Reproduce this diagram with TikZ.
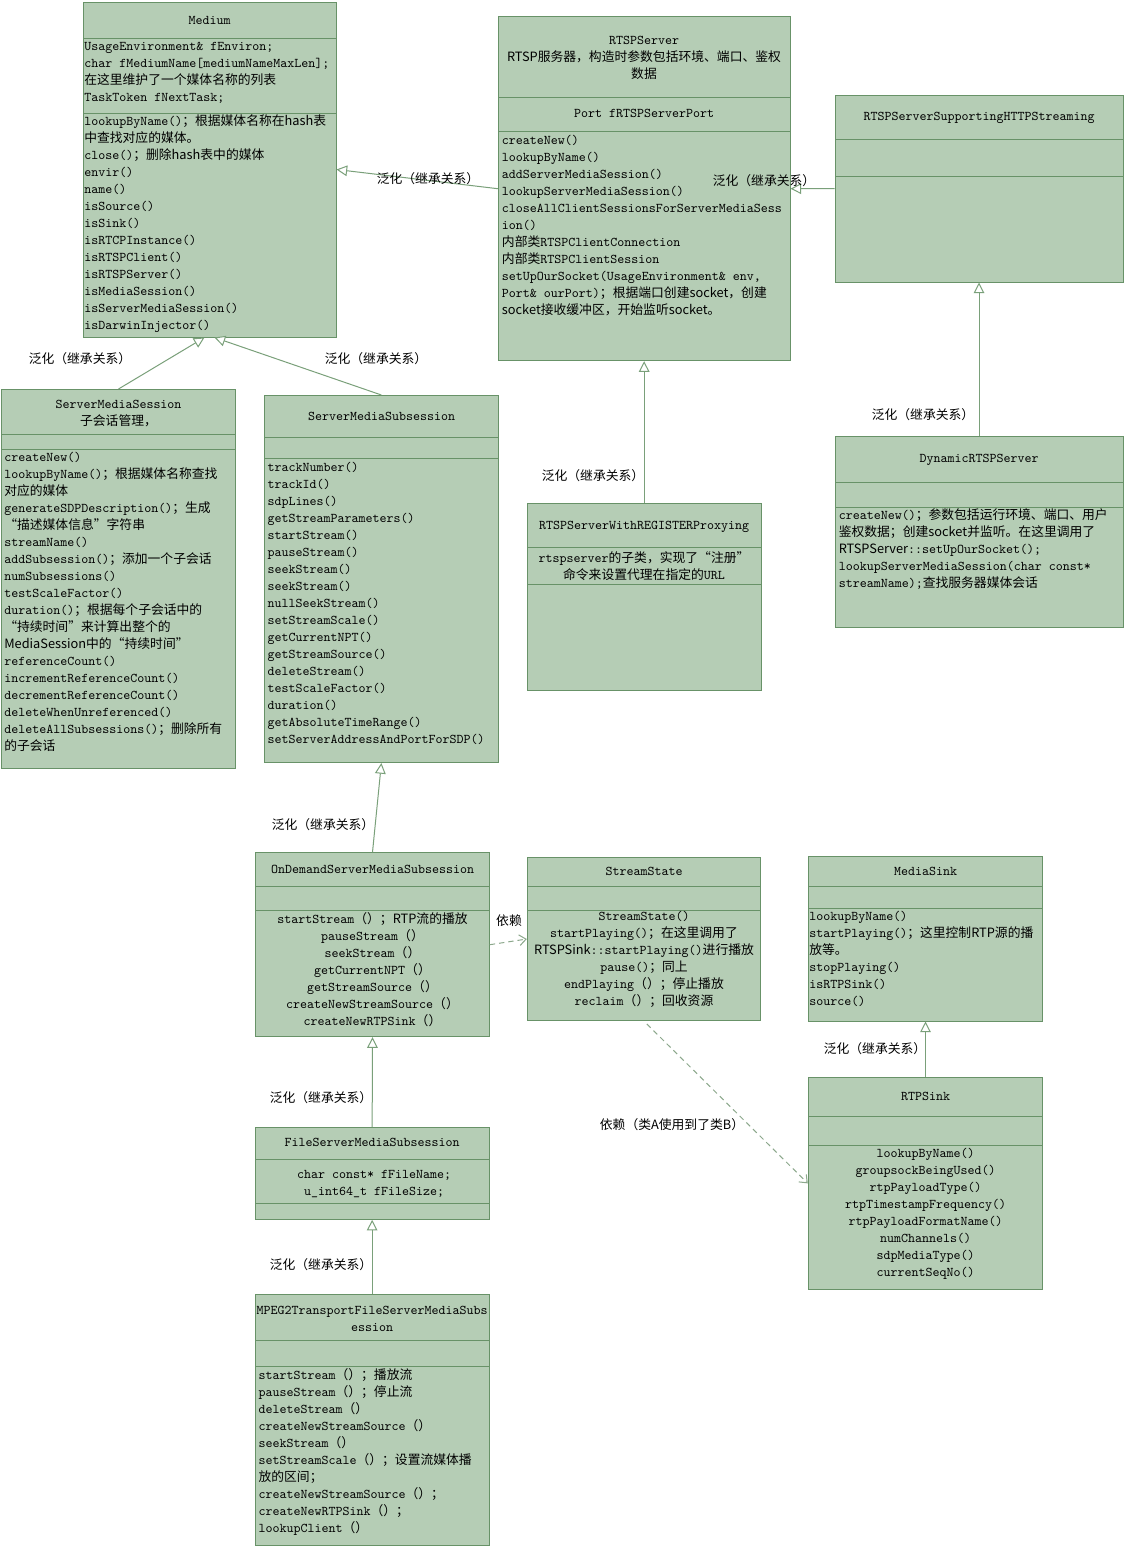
\documentclass[tikz,border=0pt]{standalone}
\usepackage{fontspec}
\newfontfamily\cjkfont[Scale=0.96]{Noto Sans CJK SC}
\usetikzlibrary{arrows.meta,fit,calc}
\newcommand\zh[1]{{\cjkfont #1}}
\newcommand\monofnt{\ttfamily\fontsize{10pt}{12.75pt}\selectfont}
\definecolor{boxfill}{RGB}{181,205,181}
\definecolor{boxline}{RGB}{104,146,104}
\definecolor{conn}{RGB}{122,160,122}
\definecolor{depline}{RGB}{140,168,140}
\begin{document}
\begin{tikzpicture}[x=0.75pt,y=-0.75pt,
  umlbox/.style={draw=boxline,fill=boxfill,line width=0.75pt,inner sep=0pt},
  divider/.style={draw=boxline,line width=0.75pt},
  txt/.style={inner sep=0pt,font=\monofnt},
  lefttxt/.style={txt,align=left,anchor=north west},
  midtxt/.style={txt,align=center,anchor=north},
  lbl/.style={inner sep=0pt,font=\cjkfont},
  gen/.style={draw=conn,line width=0.75pt,-{Triangle[open,fill=white,length=8pt,width=8pt]}},
  dep/.style={draw=depline,line width=0.75pt,dash pattern=on 4pt off 3pt,-{Straight Barb[length=5pt,width=8pt]}}
]
\fill[white] (0,0) rectangle (1124,1546);
\useasboundingbox (0,0) rectangle (1124,1546);

% ---------- Medium ----------
\node[umlbox,fit={(83,2) (336,337)}] (medium) {};
\draw[divider] (83,38.3) -- (336,38.3);
\draw[divider] (83,113.3) -- (336,113.3);
\node[txt] (medium-t) at (209.5,21) {\strut Medium};
\node[lefttxt] (medium-a) at (84,38.7) {\strut UsageEnvironment\& fEnviron;\\
\strut char fMediumName[mediumNameMaxLen];\\
\strut\zh{在这里维护了一个媒体名称的列表}\\
\strut TaskToken fNextTask;};
\node[lefttxt] (medium-m) at (84,113.7) {\strut lookupByName()\zh{；根据媒体名称在hash表}\\
\strut\zh{中查找对应的媒体。}\\
\strut close()\zh{；删除hash表中的媒体}\\
\strut envir()\\
\strut name()\\
\strut isSource()\\
\strut isSink()\\
\strut isRTCPInstance()\\
\strut isRTSPClient()\\
\strut isRTSPServer()\\
\strut isMediaSession()\\
\strut isServerMediaSession()\\
\strut isDarwinInjector()};

% ---------- RTSPServer ----------
\node[umlbox,fit={(498.3,16.7) (790,360.7)}] (rtsp) {};
\draw[divider] (498.3,97.3) -- (790,97.3);
\draw[divider] (498.3,131.7) -- (790,131.7);
\node[midtxt] (rtsp-t) at (644,32.7) {\strut RTSPServer\\
\strut\zh{RTSP服务器，构造时参数包括环境、端口、鉴权}\\
\strut\zh{数据}};
\node[txt] (rtsp-a) at (644,114.3) {\strut Port fRTSPServerPort};
\node[lefttxt] (rtsp-m) at (501.7,132.7) {\strut createNew()\\
\strut lookupByName()\\
\strut addServerMediaSession()\\
\strut lookupServerMediaSession()\\
\strut closeAllClientSessionsForServerMediaSess\\
\strut ion()\\
\strut\zh{内部类}RTSPClientConnection\\
\strut\zh{内部类}RTSPClientSession\\
\strut setUpOurSocket(UsageEnvironment\& env,\\
\strut Port\& ourPort)\zh{；根据端口创建socket，创建}\\
\strut\zh{socket接收缓冲区，开始监听socket。}};

% ---------- RTSPServerSupportingHTTPStreaming ----------
\node[umlbox,fit={(835,95) (1123,282)}] (http) {};
\draw[divider] (835,139) -- (1123,139);
\draw[divider] (835,176) -- (1123,176);
\node[txt] (http-t) at (979,117) {\strut RTSPServerSupportingHTTPStreaming};

% ---------- DynamicRTSPServer ----------
\node[umlbox,fit={(835,436) (1123,627)}] (dyn) {};
\draw[divider] (835,482) -- (1123,482);
\draw[divider] (835,507) -- (1123,507);
\node[txt] (dyn-t) at (979,459) {\strut DynamicRTSPServer};
\node[lefttxt] (dyn-m) at (838.5,507) {\strut createNew()\zh{；参数包括运行环境、端口、用户}\\
\strut\zh{鉴权数据；创建socket并监听。在这里调用了}\\
\strut\zh{RTSPServer}::setUpOurSocket();\\
\strut lookupServerMediaSession(char const*\\
\strut streamName);\zh{查找服务器媒体会话}};

% ---------- RTSPServerWithREGISTERProxying ----------
\node[umlbox,fit={(527.3,503.3) (761,690)}] (proxy) {};
\draw[divider] (527.3,547.3) -- (761,547.3);
\draw[divider] (527.3,584.3) -- (761,584.3);
\node[txt] (proxy-t) at (644,526) {\strut RTSPServerWithREGISTERProxying};
\node[midtxt] (proxy-a) at (644,550.3) {\strut rtspserver\zh{的子类，实现了“注册”}\\
\strut\zh{命令来设置代理在指定的}URL};

% ---------- ServerMediaSession ----------
\node[umlbox,fit={(1.5,389.5) (235.5,768.5)}] (sms) {};
\draw[divider] (1.5,434.3) -- (235.5,434.3);
\draw[divider] (1.5,449.5) -- (235.5,449.5);
\node[midtxt] (sms-t) at (118.5,396) {\strut ServerMediaSession\\
\strut\zh{子会话管理，}};
\node[lefttxt] (sms-m) at (4,449.7) {\strut createNew()\\
\strut lookupByName()\zh{；根据媒体名称查找}\\
\strut\zh{对应的媒体}\\
\strut generateSDPDescription()\zh{；生成}\\
\strut\zh{“描述媒体信息”字符串}\\
\strut streamName()\\
\strut addSubsession()\zh{；添加一个子会话}\\
\strut numSubsessions()\\
\strut testScaleFactor()\\
\strut duration()\zh{；根据每个子会话中的}\\
\strut\zh{“持续时间”来计算出整个的}\\
\strut\zh{MediaSession中的“持续时间”}\\
\strut referenceCount()\\
\strut incrementReferenceCount()\\
\strut decrementReferenceCount()\\
\strut deleteWhenUnreferenced()\\
\strut deleteAllSubsessions()\zh{；删除所有}\\
\strut\zh{的子会话}};

% ---------- ServerMediaSubsession ----------
\node[umlbox,fit={(264.5,395.5) (498.3,762.5)}] (subs) {};
\draw[divider] (264.5,437.3) -- (498.3,437.3);
\draw[divider] (264.5,458.3) -- (498.3,458.3);
\node[txt] (subs-t) at (381.5,416.7) {\strut ServerMediaSubsession};
\node[lefttxt] (subs-m) at (267.3,459.3) {\strut trackNumber()\\
\strut trackId()\\
\strut sdpLines()\\
\strut getStreamParameters()\\
\strut startStream()\\
\strut pauseStream()\\
\strut seekStream()\\
\strut seekStream()\\
\strut nullSeekStream()\\
\strut setStreamScale()\\
\strut getCurrentNPT()\\
\strut getStreamSource()\\
\strut deleteStream()\\
\strut testScaleFactor()\\
\strut duration()\\
\strut getAbsoluteTimeRange()\\
\strut setServerAddressAndPortForSDP()};

% ---------- OnDemandServerMediaSubsession ----------
\node[umlbox,fit={(255.7,852.7) (489.3,1036.7)}] (ondemand) {};
\draw[divider] (255.7,886) -- (489.3,886);
\draw[divider] (255.7,910.7) -- (489.3,910.7);
\node[txt] (ondemand-t) at (372.5,870) {\strut OnDemandServerMediaSubsession};
\node[midtxt] (ondemand-m) at (372.5,911) {\strut startStream\zh{（）；RTP流的播放}\\
\strut pauseStream\zh{（）}\\
\strut seekStream\zh{（）}\\
\strut getCurrentNPT\zh{（）}\\
\strut getStreamSource\zh{（）}\\
\strut createNewStreamSource\zh{（）}\\
\strut createNewRTPSink\zh{（）}};

% ---------- StreamState ----------
\node[umlbox,fit={(527.3,857.3) (760.7,1020.7)}] (ss) {};
\draw[divider] (527.3,886) -- (760.7,886);
\draw[divider] (527.3,910) -- (760.7,910);
\node[txt] (ss-t) at (644,872) {\strut StreamState};
\node[midtxt] (ss-m) at (644,908.7) {\strut StreamState()\\
\strut startPlaying()\zh{；在这里调用了}\\
\strut\zh{RTSPSink}::startPlaying()\zh{进行播放}\\
\strut pause()\zh{；同上}\\
\strut endPlaying\zh{（）；停止播放}\\
\strut reclaim\zh{（）；回收资源}};

% ---------- MediaSink ----------
\node[umlbox,fit={(808.3,856.7) (1042.7,1021)}] (mediasink) {};
\draw[divider] (808.3,886.7) -- (1042.7,886.7);
\draw[divider] (808.3,908.3) -- (1042.7,908.3);
\node[txt] (mediasink-t) at (925.5,872) {\strut MediaSink};
\node[lefttxt] (mediasink-m) at (809,908.7) {\strut lookupByName()\\
\strut startPlaying()\zh{；这里控制RTP源的播}\\
\strut\zh{放等。}\\
\strut stopPlaying()\\
\strut isRTPSink()\\
\strut source()};

% ---------- RTPSink ----------
\node[umlbox,fit={(808.3,1077.7) (1042.7,1289)}] (rtpsink) {};
\draw[divider] (808.3,1116.7) -- (1042.7,1116.7);
\draw[divider] (808.3,1145) -- (1042.7,1145);
\node[txt] (rtpsink-t) at (925.5,1096.7) {\strut RTPSink};
\node[midtxt] (rtpsink-m) at (925.5,1145.3) {\strut lookupByName()\\
\strut groupsockBeingUsed()\\
\strut rtpPayloadType()\\
\strut rtpTimestampFrequency()\\
\strut rtpPayloadFormatName()\\
\strut numChannels()\\
\strut sdpMediaType()\\
\strut currentSeqNo()};

% ---------- FileServerMediaSubsession ----------
\node[umlbox,fit={(255,1127.3) (489.3,1219.3)}] (file) {};
\draw[divider] (255,1159.3) -- (489.3,1159.3);
\draw[divider] (255,1203.3) -- (489.3,1203.3);
\node[txt] (file-t) at (372.2,1143.3) {\strut FileServerMediaSubsession};
\node[midtxt] (file-a) at (374,1166.3) {\strut char const* fFileName;\\
\strut u\_int64\_t fFileSize;};

% ---------- MPEG2TransportFileServerMediaSubsession ----------
\node[umlbox,fit={(255,1294.3) (489.3,1545)}] (mpeg) {};
\draw[divider] (255,1340) -- (489.3,1340);
\draw[divider] (255,1366.7) -- (489.3,1366.7);
\node[midtxt] (mpeg-t) at (372.2,1302) {\strut MPEG2TransportFileServerMediaSubs\\
\strut ession};
\node[lefttxt] (mpeg-m) at (258.3,1367) {\strut startStream\zh{（）；播放流}\\
\strut pauseStream\zh{（）；停止流}\\
\strut deleteStream\zh{（）}\\
\strut createNewStreamSource\zh{（）}\\
\strut seekStream\zh{（）}\\
\strut setStreamScale\zh{（）；设置流媒体播}\\
\strut\zh{放的区间；}\\
\strut createNewStreamSource\zh{（）；}\\
\strut createNewRTPSink\zh{（）；}\\
\strut lookupClient\zh{（）}};

% ---------- connectors ----------
\draw[gen] (rtsp.west) -- (medium.east);
\draw[gen] (http.west) -- (rtsp.east);
\draw[gen] (dyn.north) -- (http.south);
\draw[gen] (proxy.north) -- (rtsp.south);
\draw[gen] (sms.north) -- ($(medium.south)+(-5,0)$);
\draw[gen] (subs.north) -- ($(medium.south)+(5,0)$);
\draw[gen] (ondemand.north) -- (subs.south);
\draw[gen] (file.north) -- (ondemand.south);
\draw[gen] (mpeg.north) -- (file.south);
\draw[gen] (rtpsink.north) -- (mediasink.south);
\draw[dep] (ondemand.east) -- (ss.west);
\draw[dep,shorten <=3pt] (ss.south) -- (rtpsink.west);

% ---------- labels ----------
\node[lbl] (l1) at (428,179) {泛化（继承关系）};
\node[lbl] (l2) at (764,181) {泛化（继承关系）};
\node[lbl] (l3) at (923,415) {泛化（继承关系）};
\node[lbl] (l4) at (593,476) {泛化（继承关系）};
\node[lbl] (l5) at (80,359) {泛化（继承关系）};
\node[lbl] (l6) at (376,359) {泛化（继承关系）};
\node[lbl] (l7) at (323,825) {泛化（继承关系）};
\node[lbl] (l8) at (321,1098) {泛化（继承关系）};
\node[lbl] (l9) at (321,1265) {泛化（继承关系）};
\node[lbl] (l10) at (875,1049) {泛化（继承关系）};
\node[lbl] (l11) at (509,921) {依赖};
\node[lbl] (l12) at (672,1125) {依赖（类A使用到了类B）};
\end{tikzpicture}
\end{document}
